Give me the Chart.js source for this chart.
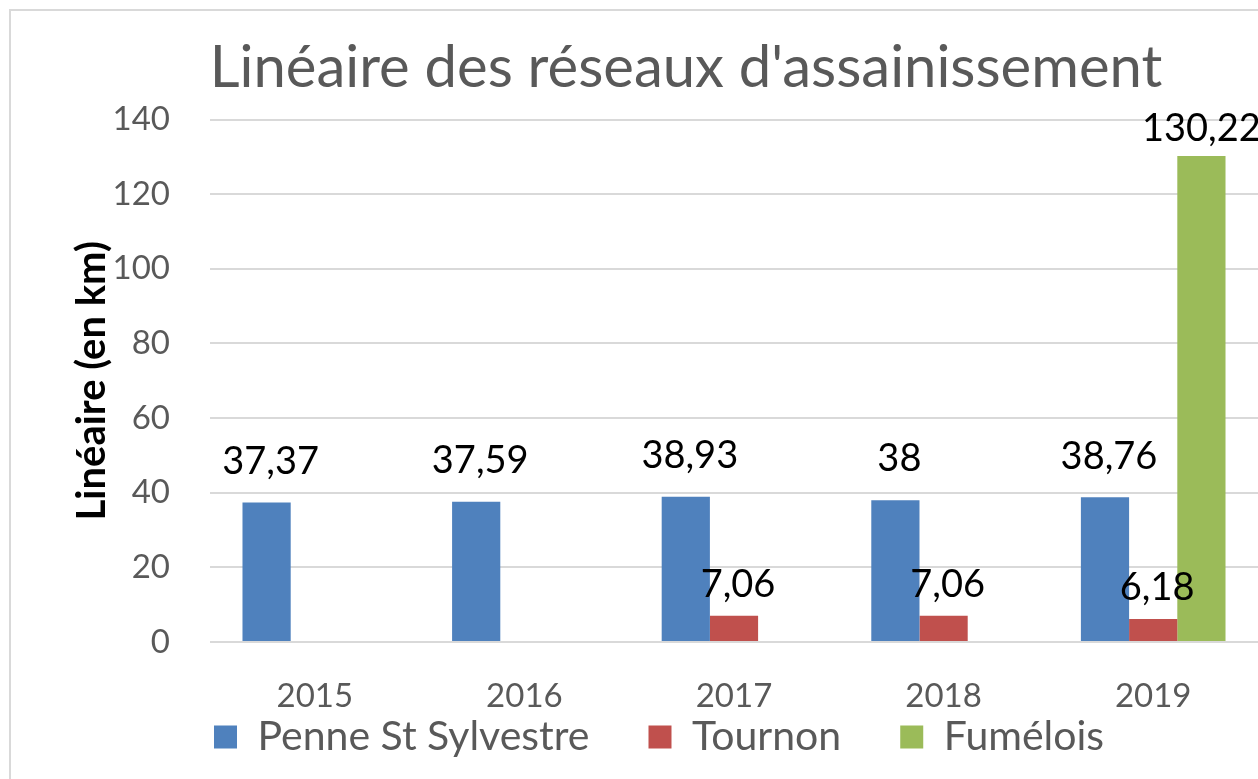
<!DOCTYPE html>
<html lang="fr">
<head>
<meta charset="utf-8">
<title>Linéaire des réseaux d'assainissement</title>
<script src="https://cdn.jsdelivr.net/npm/chart.js@4.4.1/dist/chart.umd.min.js"></script>
<style>
    html, body { margin: 0; padding: 0; background: #fff; overflow: hidden; width: 1258px; height: 779px; }
    #cadre {
        position: absolute; left: 9px; top: 9px;
        width: 1350px; height: 821px;
        border: 2px solid #d9d9d9; background: #fff;
    }
    #cadre canvas { display: block; }
</style>
</head>
<body>
<div id="cadre"><canvas id="reseaux" width="1350" height="821"></canvas></div>
<script>
// ======= Données =======
const annees = ['2015', '2016', '2017', '2018', '2019'];
const penneStSylvestre = [37.37, 37.59, 38.93, 38, 38.76];
const tournon = [null, null, 7.06, 7.06, 6.18];
const fumelois = [null, null, null, null, 130.22];
const graduationsY = [0, 20, 40, 60, 80, 100, 120, 140];

const POLICE = "Lato, 'Open Sans', 'DejaVu Sans', sans-serif";
const GRIS = '#595959';
const TAILLE_LEGENDE = 41;
const ESPACE_LEGENDE = 59;

// Étiquettes de valeur au-dessus des barres, format français (virgule)
const etiquettes = {
    id: 'etiquettes',
    afterDatasetsDraw(chart) {
        const ctx = chart.ctx;
        ctx.save();
        ctx.font = '38px ' + POLICE;
        ctx.fillStyle = '#000';
        ctx.textAlign = 'center';
        ctx.textBaseline = 'middle';
        chart.data.datasets.forEach((ds, i) => {
            const meta = chart.getDatasetMeta(i);
            meta.data.forEach((bar, j) => {
                const v = ds.data[j];
                if (v === null || v === undefined) return;
                const txt = String(v).replace('.', ',');
                ctx.fillText(txt, bar.x + (ds.decalX || 0), bar.y - ds.decalY);
            });
        });
        ctx.restore();
    }
};

// Place la légende sous les années, le premier carré aligné à gauche
const placementLegende = {
    id: 'placementLegende',
    afterLayout(chart) {
        const l = chart.legend;
        const dy = 726 - (l.top + ESPACE_LEGENDE + TAILLE_LEGENDE / 2);
        l.top += dy;
        l.bottom += dy;
        l.left = 203 - ESPACE_LEGENDE;
    }
};

new Chart(document.getElementById('reseaux').getContext('2d'), {
    type: 'bar',
    data: {
        labels: annees,
        datasets: [
            { label: 'Penne St Sylvestre', data: penneStSylvestre, backgroundColor: '#4f81bd', decalY: 41, decalX: 4 },
            { label: 'Tournon', data: tournon, backgroundColor: '#c0504d', decalY: 31, decalX: 4 },
            { label: 'Fumélois', data: fumelois, backgroundColor: '#9bbb59', decalY: 27, decalX: 0 }
        ]
    },
    options: {
        responsive: false,
        animation: false,
        devicePixelRatio: 1,
        layout: { padding: 0 },
        datasets: {
            bar: { barPercentage: 1, categoryPercentage: 0.69 }
        },
        plugins: {
            title: {
                display: true,
                text: "Linéaire des réseaux d'assainissement",
                color: GRIS,
                font: { family: POLICE, size: 58, weight: 'normal', lineHeight: 1.2 },
                padding: { top: 22, bottom: 17 }
            },
            legend: {
                position: 'bottom',
                align: 'start',
                labels: {
                    color: GRIS,
                    font: { family: POLICE, size: TAILLE_LEGENDE },
                    boxWidth: 23,
                    boxHeight: 23,
                    padding: ESPACE_LEGENDE
                }
            },
            tooltip: { enabled: false }
        },
        scales: {
            x: {
                grid: { display: false },
                border: { display: false },
                ticks: { color: GRIS, font: { family: POLICE, size: 33 }, padding: 27 },
                afterFit(s) { s.height = 80; }
            },
            y: {
                min: 0,
                max: 140,
                afterBuildTicks(s) { s.ticks = graduationsY.map(v => ({ value: v })); },
                grid: { color: '#d9d9d9', lineWidth: 2, drawTicks: false },
                border: { display: false },
                ticks: { color: GRIS, font: { family: POLICE, size: 33 }, padding: 40 },
                title: {
                    display: true,
                    text: 'Linéaire (en km)',
                    color: '#000',
                    font: { family: POLICE, size: 40, weight: 'bold', lineHeight: 1.2 },
                    padding: { top: 57, bottom: 0 }
                },
                afterFit(s) { s.width = 199; }
            },
            // axe vide à droite pour réserver la marge
            marge: {
                position: 'right',
                display: true,
                grid: { display: false },
                border: { display: false },
                ticks: { display: false },
                afterFit(s) { s.width = 103; }
            }
        }
    },
    plugins: [etiquettes, placementLegende]
});
</script>
</body>
</html>
